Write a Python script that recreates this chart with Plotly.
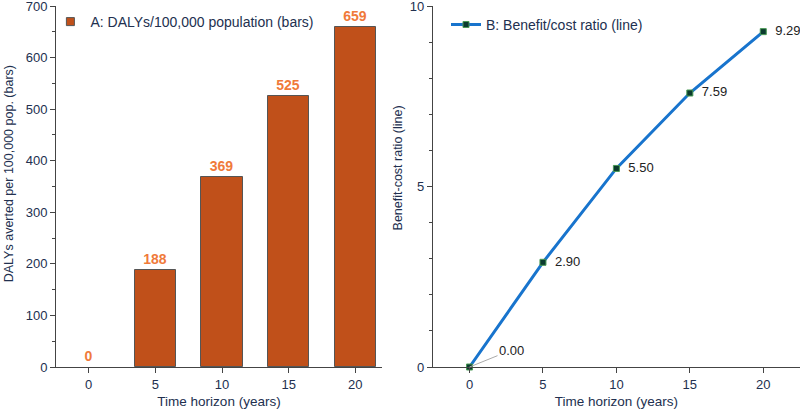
import plotly.graph_objects as go

years = [0, 5, 10, 15, 20]
dalys = [0, 188, 369, 525, 659]
bcr = [0.00, 2.90, 5.50, 7.59, 9.29]
bcr_labels = ["", "2.90", "5.50", "7.59", "9.29"]

navy = "#22304f"
axis_col = "#444444"
font_fam = "Liberation Sans, Arial, sans-serif"
bar_col = "#C0501A"

fig = go.Figure()

fig.add_trace(go.Bar(
    x=years, y=dalys, width=3.1,
    marker=dict(color=bar_col, line=dict(color="#555555", width=[0 if v == 0 else 1 for v in dalys])),
    text=[str(v) for v in dalys], textposition="outside",
    textfont=dict(color="#F07A3A", size=14, family=font_fam, weight="bold"),
    cliponaxis=False, showlegend=False,
    name="A: DALYs/100,000 population (bars)",
    xaxis="x", yaxis="y",
))
# legend entry for the bars (small square symbol)
fig.add_trace(go.Scatter(
    x=[None], y=[None], mode="markers",
    marker=dict(symbol="square", size=8, color=bar_col, line=dict(color="#555555", width=1)),
    name="A: DALYs/100,000 population (bars)",
    xaxis="x", yaxis="y", legend="legend",
))

fig.add_trace(go.Scatter(
    x=years, y=bcr, mode="lines+markers+text",
    line=dict(color="#1874CD", width=3),
    marker=dict(symbol="square", size=6, color="#0b3b2e", line=dict(color="#4a9a55", width=1)),
    text=["  " + t if t else "" for t in bcr_labels], textposition="middle right",
    textfont=dict(color="#222222", size=13, family=font_fam),
    cliponaxis=False,
    name="B: Benefit/cost ratio (line)",
    xaxis="x2", yaxis="y2", legend="legend2",
))

fig.add_annotation(
    x=0, y=0, xref="x2", yref="y2", text="0.00",
    showarrow=True, arrowhead=0, arrowwidth=1, arrowcolor="#aaaaaa",
    ax=42, ay=-17, font=dict(color="#222222", size=13, family=font_fam),
    xanchor="center",
)

# y-axis titles
fig.add_annotation(x=0.0105, y=0.535, xref="paper", yref="paper", text="DALYs averted per 100,000 pop. (bars)",
                   textangle=-90, showarrow=False, xanchor="center", yanchor="middle",
                   font=dict(size=12.5, color=navy, family=font_fam))
fig.add_annotation(x=0.4975, y=0.55, xref="paper", yref="paper", text="Benefit-cost ratio (line)",
                   textangle=-90, showarrow=False, xanchor="center", yanchor="middle",
                   font=dict(size=12.5, color=navy, family=font_fam))

tick_common = dict(
    showline=True, linecolor=axis_col, linewidth=1,
    ticks="outside", ticklen=5, tickcolor=axis_col,
    tickfont=dict(color=navy, size=13, family=font_fam),
    showgrid=False, zeroline=False, ticklabeloverflow="allow",
)

fig.update_layout(
    width=800, height=413,
    margin=dict(l=0, r=0, t=6, b=46),
    paper_bgcolor="white", plot_bgcolor="white",
    font=dict(family=font_fam, color=navy, size=13),
    bargap=0,
    xaxis=dict(domain=[0.07, 0.4775], range=[-2.45, 22], tickvals=years,
               title=dict(text="Time horizon (years)", font=dict(size=13.5, color=navy), standoff=5),
               anchor="y", **tick_common),
    yaxis=dict(domain=[0, 1], range=[0, 700], dtick=100,
               minor=dict(dtick=50, ticks="outside", ticklen=3, tickcolor=axis_col),
               anchor="x", **tick_common),
    xaxis2=dict(domain=[0.541, 1.0], range=[-2.5, 22.5], tickvals=years,
                title=dict(text="Time horizon (years)", font=dict(size=13.5, color=navy), standoff=5),
                anchor="y2", **tick_common),
    yaxis2=dict(domain=[0, 1], range=[0, 10], dtick=5,
                minor=dict(dtick=1, ticks="outside", ticklen=3, tickcolor=axis_col),
                anchor="x2", **tick_common),
    legend=dict(x=0.063, y=1.0, xanchor="left", yanchor="top",
                bgcolor="rgba(0,0,0,0)", font=dict(size=14, color=navy),
                itemwidth=30),
    legend2=dict(x=0.5575, y=0.992, xanchor="left", yanchor="top",
                 bgcolor="rgba(0,0,0,0)", font=dict(size=14, color=navy),
                 itemwidth=30),
    showlegend=True,
)

fig.write_html("out.html")
